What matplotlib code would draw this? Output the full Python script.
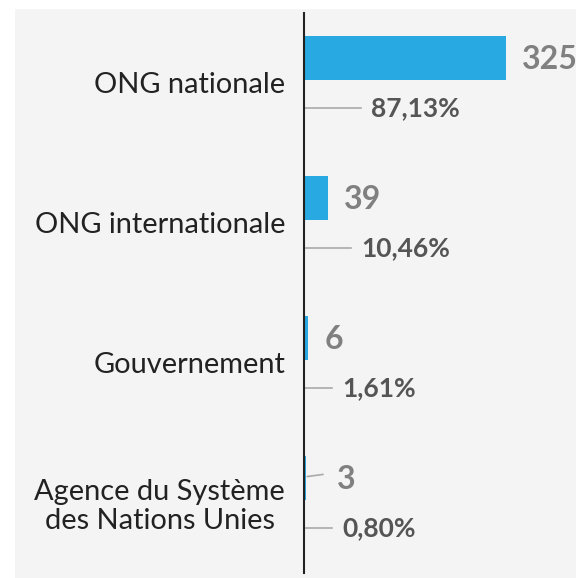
import matplotlib
matplotlib.use('Agg')
import matplotlib.pyplot as plt
import matplotlib.patches as patches
import numpy as np

plt.rcParams['font.family'] = ['Lato', 'DejaVu Sans']

# données
categories = ['ONG nationale', 'ONG internationale', 'Gouvernement',
              'Agence du Système\ndes Nations Unies']
counts = [325, 39, 6, 3]
percents = ['87,13%', '10,46%', '1,61%', '0,80%']

# mise en page (pixels)
W, H = 576, 578
ax_left, ax_top, ax_bottom = 304, 13, 573
px_per_unit = 202 / 325
lead_len = [57, 47, 28, 28]      # longueur des traits vers les pourcentages
val_gap = [16, 16, 17, 31]       # espace barre -> valeur

fig = plt.figure(figsize=(W / 100, H / 100), dpi=100)
fig.patch.set_facecolor('white')
fig.patches.append(patches.Rectangle((15 / W, 0), 1, 1 - 9 / H, transform=fig.transFigure,
                                     facecolor='#f4f4f4', edgecolor='none', zorder=-10))

ax = fig.add_axes([ax_left / W, (H - ax_bottom) / H, (W - ax_left) / W, (ax_bottom - ax_top) / H])
ax.set_facecolor('none')
ax.set_zorder(2)

y = np.arange(len(categories))
ax.barh(y, counts, height=0.314, color='#29a9e1', zorder=3)

xmax = (W - ax_left) / px_per_unit
ax.set_xlim(0, xmax)
ax.set_ylim(len(categories) - 1 + 0.679, -0.321)

for s in ['top', 'right', 'bottom']:
    ax.spines[s].set_visible(False)
ax.spines['left'].set_color('#222222')
ax.spines['left'].set_linewidth(1.5)
ax.spines['left'].set_zorder(5)
ax.set_xticks([])
ax.set_yticks(y + 0.175)
ax.set_yticklabels(categories, fontsize=20.9, color='#222222', multialignment='center',
                   linespacing=1.15)
ax.tick_params(axis='y', length=0, pad=13.5)

u = xmax / (W - ax_left)  # données par pixel
for i, (c, p) in enumerate(zip(counts, percents)):
    # valeur
    if i == 3:
        ax.plot([c + 1.5 * u, c + 17 * u], [i - 0.01, i - 0.025], color='#aaaaaa', lw=1.2, zorder=4)
    ax.annotate(str(c), (c, i - 0.01), xytext=(val_gap[i], 0), textcoords='offset pixels',
                ha='left', va='center_baseline', fontsize=23, fontweight='bold', color='#808080',
                annotation_clip=False)
    # pourcentage
    yp = i + 0.357
    ax.plot([0, lead_len[i] * u], [yp, yp], color='#aaaaaa', lw=1.2, zorder=4)
    ax.annotate(p, (lead_len[i] * u, yp), xytext=(10, 0), textcoords='offset pixels',
                ha='left', va='center', fontsize=19, fontweight='bold', color='#555555')

fig.savefig('out.png', dpi=100)
